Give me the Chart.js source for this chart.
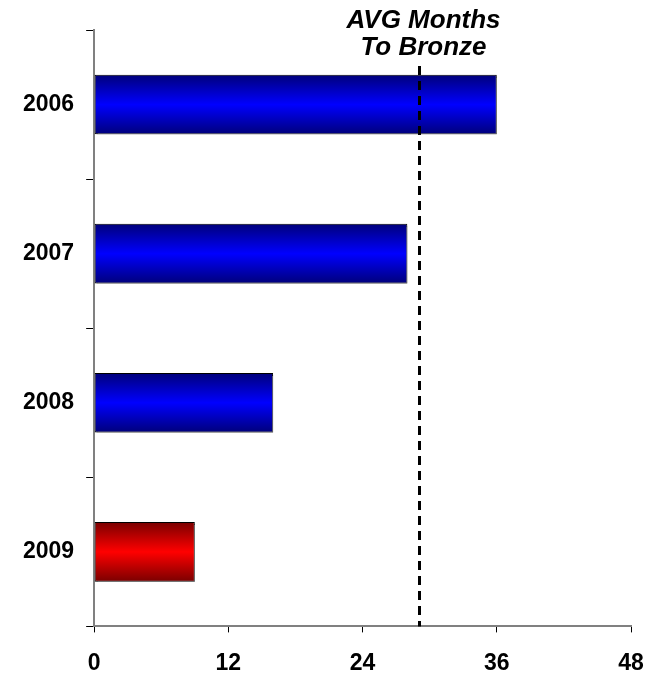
<!DOCTYPE html>
<html>
<head>
<meta charset="utf-8">
<script src="https://cdn.jsdelivr.net/npm/chart.js@4/dist/chart.umd.min.js"></script>
<style>
  body { margin: 0; background: #fff; }
  canvas { display: block; }
</style>
</head>
<body>
<canvas id="bronzeChart" width="652" height="673"></canvas>
<script>
const years = ["2006", "2007", "2008", "2009"];
const monthsToBronze = [36, 28, 16, 9];
const avgMonths = 29;
const xTicks = [0, 12, 24, 36, 48];
const avgLabel = ["AVG Months", "To Bronze"];

const FONT = "'Liberation Sans', Arial, sans-serif";

// vertical gradient per bar: dark edges, bright middle
function barGradient(ctx) {
  const chart = ctx.chart;
  const y = chart.scales.y;
  const isLast = ctx.dataIndex === years.length - 1;
  const dark = isLast ? "#7a0000" : "#00007a";
  const bright = isLast ? "#ff0000" : "#0000ff";
  if (!y || ctx.dataIndex === undefined) return bright;
  const center = y.getPixelForValue(ctx.dataIndex);
  const half = (y.height / years.length) * 0.4 / 2;
  if (!isFinite(center) || !isFinite(half) || half <= 0) return bright;
  const g = chart.ctx.createLinearGradient(0, center - half, 0, center + half);
  g.addColorStop(0, dark);
  g.addColorStop(0.5, bright);
  g.addColorStop(1, dark);
  return g;
}

const shadowPlugin = {
  id: "barShadow",
  beforeDatasetsDraw(chart) {
    const c = chart.ctx;
    c.save();
    c.shadowColor = "rgba(120,120,120,0.8)";
    c.shadowOffsetX = 2;
    c.shadowOffsetY = 2;
    c.shadowBlur = 0;
  },
  afterDatasetsDraw(chart) {
    chart.ctx.restore();
  }
};

const avgLinePlugin = {
  id: "avgLine",
  afterDatasetsDraw(chart) {
    const c = chart.ctx;
    const x = Math.round(chart.scales.x.getPixelForValue(avgMonths)) + 0.5;
    const area = chart.chartArea;
    c.save();
    c.strokeStyle = "#000";
    c.lineWidth = 3;
    c.setLineDash([9, 6]);
    c.beginPath();
    c.moveTo(x, area.top + 36);
    c.lineTo(x, area.bottom);
    c.stroke();
    c.setLineDash([]);
    c.fillStyle = "#000";
    c.font = "italic bold 26px " + FONT;
    c.textAlign = "center";
    c.textBaseline = "middle";
    c.fillText(avgLabel[0], x + 4, 21);
    c.fillText(avgLabel[1], x + 4, 48);
    c.restore();
  }
};

new Chart(document.getElementById("bronzeChart").getContext("2d"), {
  type: "bar",
  data: {
    labels: years,
    datasets: [{
      data: monthsToBronze,
      backgroundColor: barGradient,
      borderColor: "#000",
      borderWidth: 1,
      borderSkipped: false,
      barPercentage: 0.4,
      categoryPercentage: 1
    }]
  },
  options: {
    indexAxis: "y",
    responsive: false,
    animation: false,
    layout: {
      padding: { top: 30, left: 11, right: 21, bottom: -21 }
    },
    plugins: {
      legend: { display: false },
      tooltip: { enabled: false }
    },
    scales: {
      x: {
        min: 0,
        max: 48,
        afterBuildTicks(scale) {
          scale.ticks = xTicks.map(v => ({ value: v }));
        },
        afterFit(scale) {
          // labels sit under the ends; no extra side room needed
          scale.paddingLeft = 0;
          scale.paddingRight = 0;
        },
        grid: {
          drawOnChartArea: false,
          drawTicks: true,
          tickLength: 6,
          tickColor: "#000"
        },
        border: { color: "#808080", width: 2 },
        ticks: {
          color: "#000",
          padding: 17,
          maxRotation: 0,
          font: { family: FONT, size: 23, weight: "bold" }
        }
      },
      y: {
        grid: {
          offset: true,
          drawOnChartArea: false,
          tickLength: 8,
          tickColor: "#000"
        },
        border: { color: "#808080", width: 2 },
        ticks: {
          color: "#000",
          padding: 12,
          font: { family: FONT, size: 23, weight: "bold" }
        }
      }
    }
  },
  plugins: [shadowPlugin, avgLinePlugin]
});
</script>
</body>
</html>
